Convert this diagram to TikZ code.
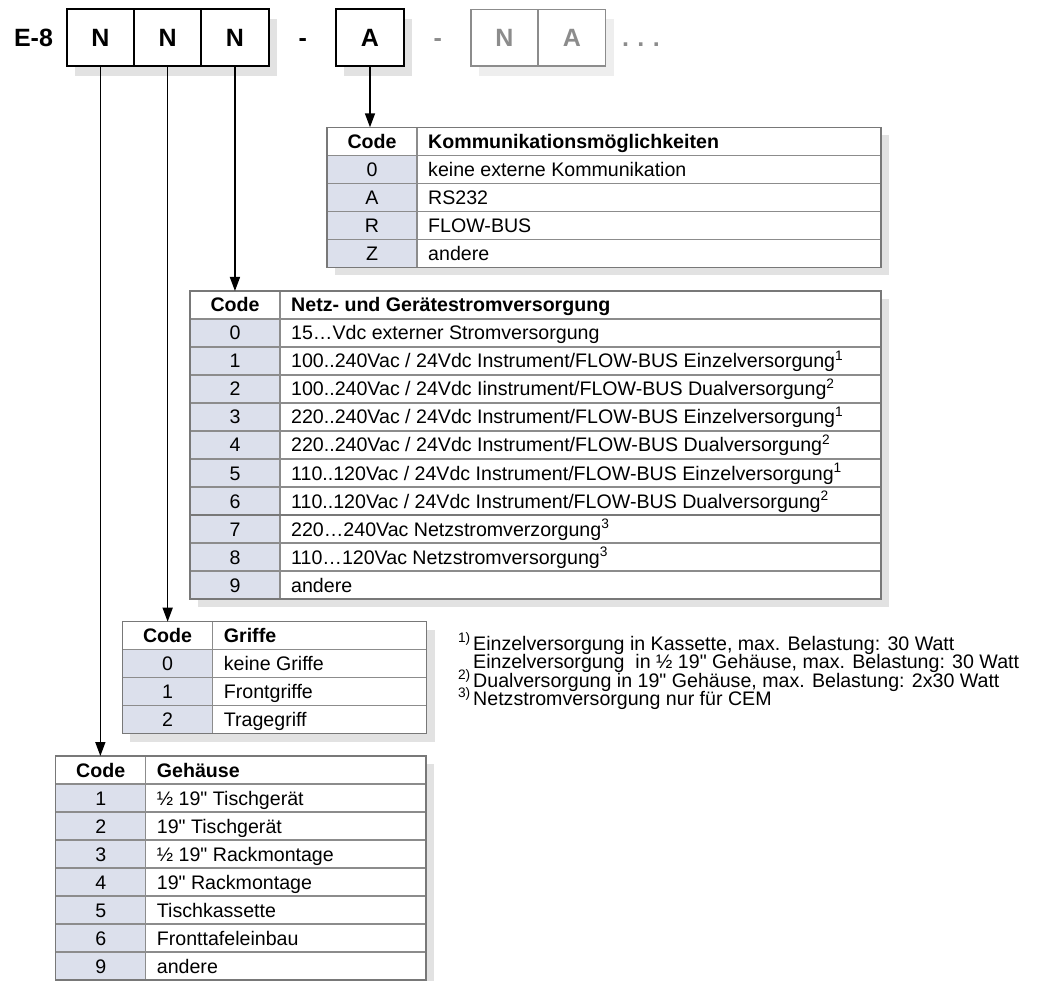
\documentclass[tikz,border=0pt]{standalone}
\usepackage{fontspec}
\setmainfont{Liberation Sans}[Ligatures=TeXOff]
\usetikzlibrary{arrows.meta}
\definecolor{codefill}{RGB}{220,224,236}
\definecolor{gridc}{RGB}{140,140,140}
\definecolor{borderc}{RGB}{120,120,120}
\definecolor{shadowc}{RGB}{226,226,226}
\definecolor{lightshadow}{RGB}{238,238,238}
\definecolor{grayfg}{RGB}{140,140,140}
\tikzset{
  hbox/.style={draw=black, line width=1.8pt, fill=white, minimum width=67.3pt, minimum height=56.7pt, inner sep=0pt, font=\fontsize{25}{30}\selectfont\bfseries},
  gbox/.style={hbox, draw=grayfg, line width=1.4pt, text=grayfg},
  htext/.style={inner sep=0pt, font=\fontsize{25}{30}\selectfont\bfseries},
  celltxt/.style={inner sep=0pt, font=\fontsize{19.6}{22}\selectfont},
  fntxt/.style={inner sep=0pt, anchor=base west, font=\fontsize{19.6}{22}\selectfont},
  gridline/.style={draw=gridc, line width=1.1pt},
  tborder/.style={draw=borderc, line width=1.4pt},
  arr/.style={line width=1.5pt, -{Triangle[length=14pt,width=10pt]}},
}
\newcommand\mktable[6]{%
  \pgfmathsetmacro\tB{#5+28*(#6+1)}%
  \fill[shadowc] (#2+8,#5+8) rectangle (#4+8,\tB+8);
  \fill[white] (#2,#5) rectangle (#4,\tB);
  \fill[codefill] (#2,#5+28) rectangle (#3,\tB);
  \foreach \k in {1,...,#6} {\draw[gridline] (#2,#5+28*\k) -- (#4,#5+28*\k);}
  \draw[gridline] (#3,#5) -- (#3,\tB);
  \draw[tborder] (#2,#5) rectangle (#4,\tB);
  \coordinate (#1top) at ({(#2+#3)/2},#5);
}
\newcommand\trow[4]{%
  \node[celltxt, anchor=base] (#1c#2) at ({(\cL+\cD)/2},{\cT+28*#2+21}) {#3};
  \node[celltxt, anchor=base west] (#1d#2) at ({\cD+11},{\cT+28*#2+21}) {#4};
}
\begin{document}
\begin{tikzpicture}[x=1pt,y=-1pt]
\useasboundingbox (0,0) rectangle (1039,981);
% ---------- header ----------
\fill[shadowc] (74.7,19.3) rectangle (276.7,76);
\fill[shadowc] (344,19.3) rectangle (412,76);
\fill[lightshadow] (479,19.3) rectangle (613.7,76);
\node[htext, anchor=base] (e8) at (33.5,46.7) {E-8};
\node[hbox] (n1) at (100.35,37.65) {N};
\node[hbox] (n2) at (167.65,37.65) {N};
\node[hbox] (n3) at (234.95,37.65) {N};
\node[htext, anchor=base] (d1) at (302.7,46.7) {-};
\node[hbox, minimum width=68pt] (a1) at (370,37.65) {A};
\node[htext, anchor=base, text=grayfg] (d2) at (437.7,46.7) {-};
\node[gbox] (g1) at (504.5,37.65) {N};
\node[gbox] (g2) at (571.85,37.65) {A};
\node[htext, anchor=base west, text=grayfg] (dots) at (622,46.7) {.\,\,.\,\,.};
% ---------- table 1 ----------
\mktable{t1}{327}{417}{881}{127.3}{4}
\def\cL{327}\def\cD{417}\def\cT{127.3}
\trow{t1}{0}{\bfseries Code}{\bfseries Kommunikationsmöglichkeiten}
\trow{t1}{1}{0}{keine externe Kommunikation}
\trow{t1}{2}{A}{RS232}
\trow{t1}{3}{R}{FLOW-BUS}
\trow{t1}{4}{Z}{andere}
% ---------- table 2 ----------
\mktable{t2}{190}{280}{881}{291}{10}
\draw[tborder] (190,515) -- (881,515);
\def\cL{190}\def\cD{280}\def\cT{291}
\trow{t2}{0}{\bfseries Code}{\bfseries Netz- und Gerätestromversorgung}
\trow{t2}{1}{0}{15…Vdc externer Stromversorgung}
\trow{t2}{2}{1}{100..240Vac / 24Vdc Instrument/FLOW-BUS Einzelversorgung\textsuperscript{1}}
\trow{t2}{3}{2}{100..240Vac / 24Vdc Iinstrument/FLOW-BUS Dualversorgung\textsuperscript{2}}
\trow{t2}{4}{3}{220..240Vac / 24Vdc Instrument/FLOW-BUS Einzelversorgung\textsuperscript{1}}
\trow{t2}{5}{4}{220..240Vac / 24Vdc Instrument/FLOW-BUS Dualversorgung\textsuperscript{2}}
\trow{t2}{6}{5}{110..120Vac / 24Vdc Instrument/FLOW-BUS Einzelversorgung\textsuperscript{1}}
\trow{t2}{7}{6}{110..120Vac / 24Vdc Instrument/FLOW-BUS Dualversorgung\textsuperscript{2}}
\trow{t2}{8}{7}{220…240Vac Netzstromverzorgung\textsuperscript{3}}
\trow{t2}{9}{8}{110…120Vac Netzstromversorgung\textsuperscript{3}}
\trow{t2}{10}{9}{andere}
% ---------- table 3 ----------
\mktable{t3}{122.3}{212.7}{426.7}{621.7}{3}
\def\cL{122.3}\def\cD{212.7}\def\cT{621.7}
\trow{t3}{0}{\bfseries Code}{\bfseries Griffe}
\trow{t3}{1}{0}{keine Griffe}
\trow{t3}{2}{1}{Frontgriffe}
\trow{t3}{3}{2}{Tragegriff}
% ---------- table 4 ----------
\mktable{t4}{55.7}{145.7}{426}{756}{7}
\def\cL{55.7}\def\cD{145.7}\def\cT{756}
\trow{t4}{0}{\bfseries Code}{\bfseries Gehäuse}
\trow{t4}{1}{1}{½ 19" Tischgerät}
\trow{t4}{2}{2}{19" Tischgerät}
\trow{t4}{3}{3}{½ 19" Rackmontage}
\trow{t4}{4}{4}{19" Rackmontage}
\trow{t4}{5}{5}{Tischkassette}
\trow{t4}{6}{6}{Fronttafeleinbau}
\trow{t4}{7}{9}{andere}
% ---------- arrows ----------
\draw[arr] (a1.south) -- (a1.south |- t1top);
\draw[arr] (n3.south) -- (n3.south |- t2top);
\draw[arr] (n2.south) -- (n2.south |- t3top);
\draw[arr] (n1.south) -- (n1.south |- t4top);
% ---------- footnotes ----------
\node[fntxt, anchor=base east] (fm1) at (471,650) {\textsuperscript{1)}};
\node[fntxt] (fn1) at (473,650) {Einzelversorgung in Kassette, max. Belastung: 30 Watt};
\node[fntxt] (fn1b) at (473,668.5) {Einzelversorgung\ \ in ½ 19" Gehäuse, max. Belastung: 30 Watt};
\node[fntxt, anchor=base east] (fm2) at (471,687) {\textsuperscript{2)}};
\node[fntxt] (fn2) at (473,687) {Dualversorgung in 19" Gehäuse, max. Belastung: 2x30 Watt};
\node[fntxt, anchor=base east] (fm3) at (471,705.5) {\textsuperscript{3)}};
\node[fntxt] (fn3) at (473,705.5) {Netzstromversorgung nur für CEM};
\end{tikzpicture}
\end{document}
